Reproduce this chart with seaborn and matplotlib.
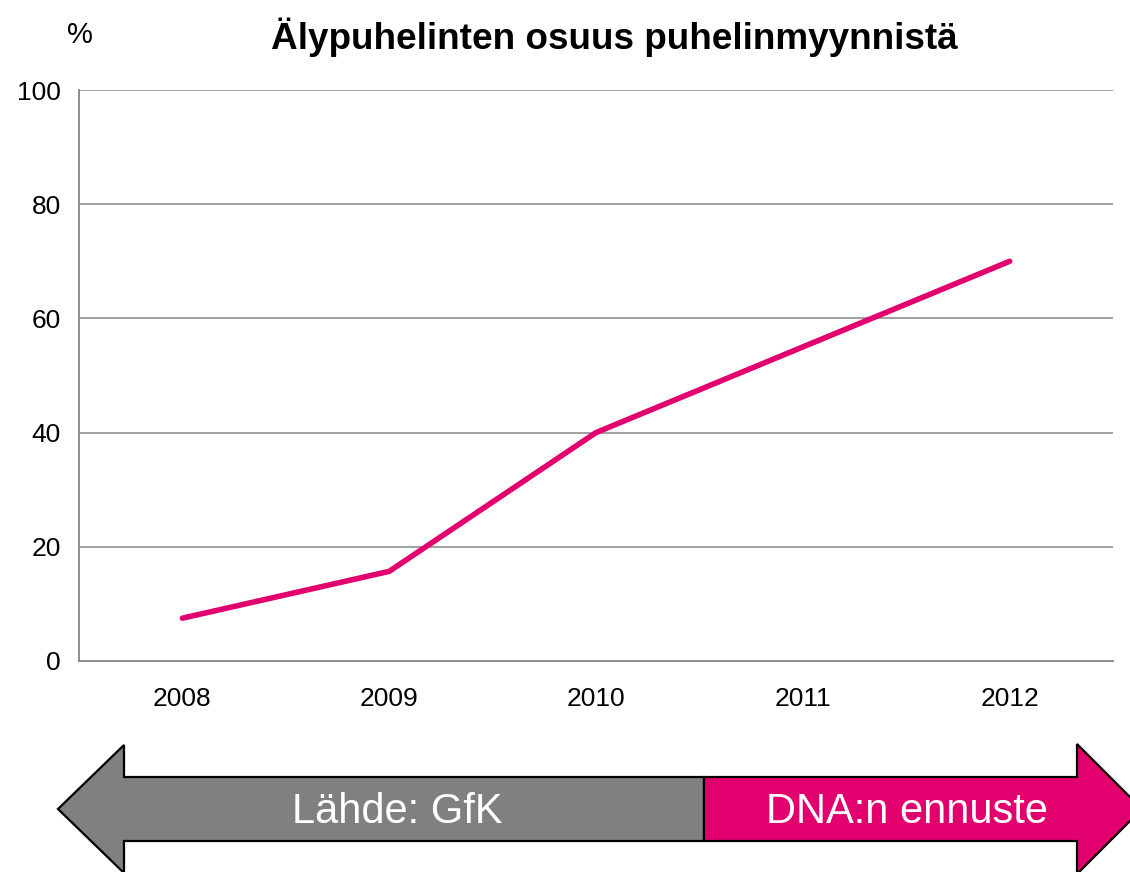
import matplotlib
matplotlib.use("Agg")
import matplotlib.pyplot as plt
from matplotlib.patches import Polygon
import seaborn as sns
import pandas as pd

years = ["2008", "2009", "2010", "2011", "2012"]
share = [7.5, 15.7, 40.0, 55.0, 70.0]
yticks = [0, 20, 40, 60, 80, 100]
title = "Älypuhelinten osuus puhelinmyynnistä"
source_label = "Lähde: GfK"
forecast_label = "DNA:n ennuste"

MAGENTA = "#E2006F"
GRAY_FILL = "#808080"
AXIS_GRAY = "#8C8C8C"

sns.set_theme(style="white")
plt.rcParams["font.family"] = ["Liberation Sans", "DejaVu Sans"]
plt.rcParams["text.color"] = "black"

fig = plt.figure(figsize=(11.3, 8.72), dpi=100)
W, H = 1130, 872
ax = fig.add_axes([79 / W, 1 - 661 / H, (1113 - 79) / W, (661 - 90) / H])

df = pd.DataFrame({"pos": range(len(years)), "share": share})
sns.lineplot(data=df, x="pos", y="share", ax=ax, color=MAGENTA, linewidth=4.0,
             solid_joinstyle="miter")

ax.set_xlim(-0.5, len(years) - 0.5)
ax.set_ylim(0, 100)
ax.set_yticks(yticks)
ax.set_yticklabels([str(v) for v in yticks], fontsize=19, color="black")
ax.set_xticks(range(len(years)))
ax.set_xticklabels(years, fontsize=19, color="black")
ax.set_xticks([i - 0.5 for i in range(len(years) + 1)], minor=True)
ax.tick_params(axis="x", which="major", length=0, pad=19)
ax.tick_params(axis="x", which="minor", length=6, width=1.3, color=AXIS_GRAY, direction="out")
ax.tick_params(axis="y", which="major", length=5, width=1.3, color=AXIS_GRAY, direction="out", pad=8)
ax.set_xlabel("")
ax.set_ylabel("")
ax.grid(axis="y", color="#A0A0A0", linewidth=1.4)
ax.grid(axis="x", visible=False)
ax.set_axisbelow(True)
for s in ["top", "right"]:
    ax.spines[s].set_visible(False)
for s in ["left", "bottom"]:
    ax.spines[s].set_color(AXIS_GRAY)
    ax.spines[s].set_linewidth(1.4)

fig.text(614 / W, 1 - 37 / H, title, ha="center", va="center", fontsize=26.6,
         fontweight="bold", color="black")
fig.text(80 / W, 1 - 35 / H, "%", ha="center", va="center", fontsize=21, color="black")

# arrows overlay in pixel coordinates
ov = fig.add_axes([0, 0, 1, 1], facecolor="none")
ov.set_xlim(0, W)
ov.set_ylim(H, 0)
ov.axis("off")
left_arrow = [(58, 809), (124, 745), (124, 777), (704, 777), (704, 841), (124, 841), (124, 873)]
right_arrow = [(704, 777), (1077, 777), (1077, 744), (1142, 809), (1077, 874), (1077, 841), (704, 841)]
ov.add_patch(Polygon(left_arrow, closed=True, facecolor=GRAY_FILL, edgecolor="black", linewidth=1.6))
ov.add_patch(Polygon(right_arrow, closed=True, facecolor=MAGENTA, edgecolor="black", linewidth=1.6))
ov.text(397, 812, source_label, ha="center", va="center", fontsize=30, color="white")
ov.text(907, 812, forecast_label, ha="center", va="center", fontsize=30, color="white")

fig.savefig("out.png", dpi=100, facecolor="white")
